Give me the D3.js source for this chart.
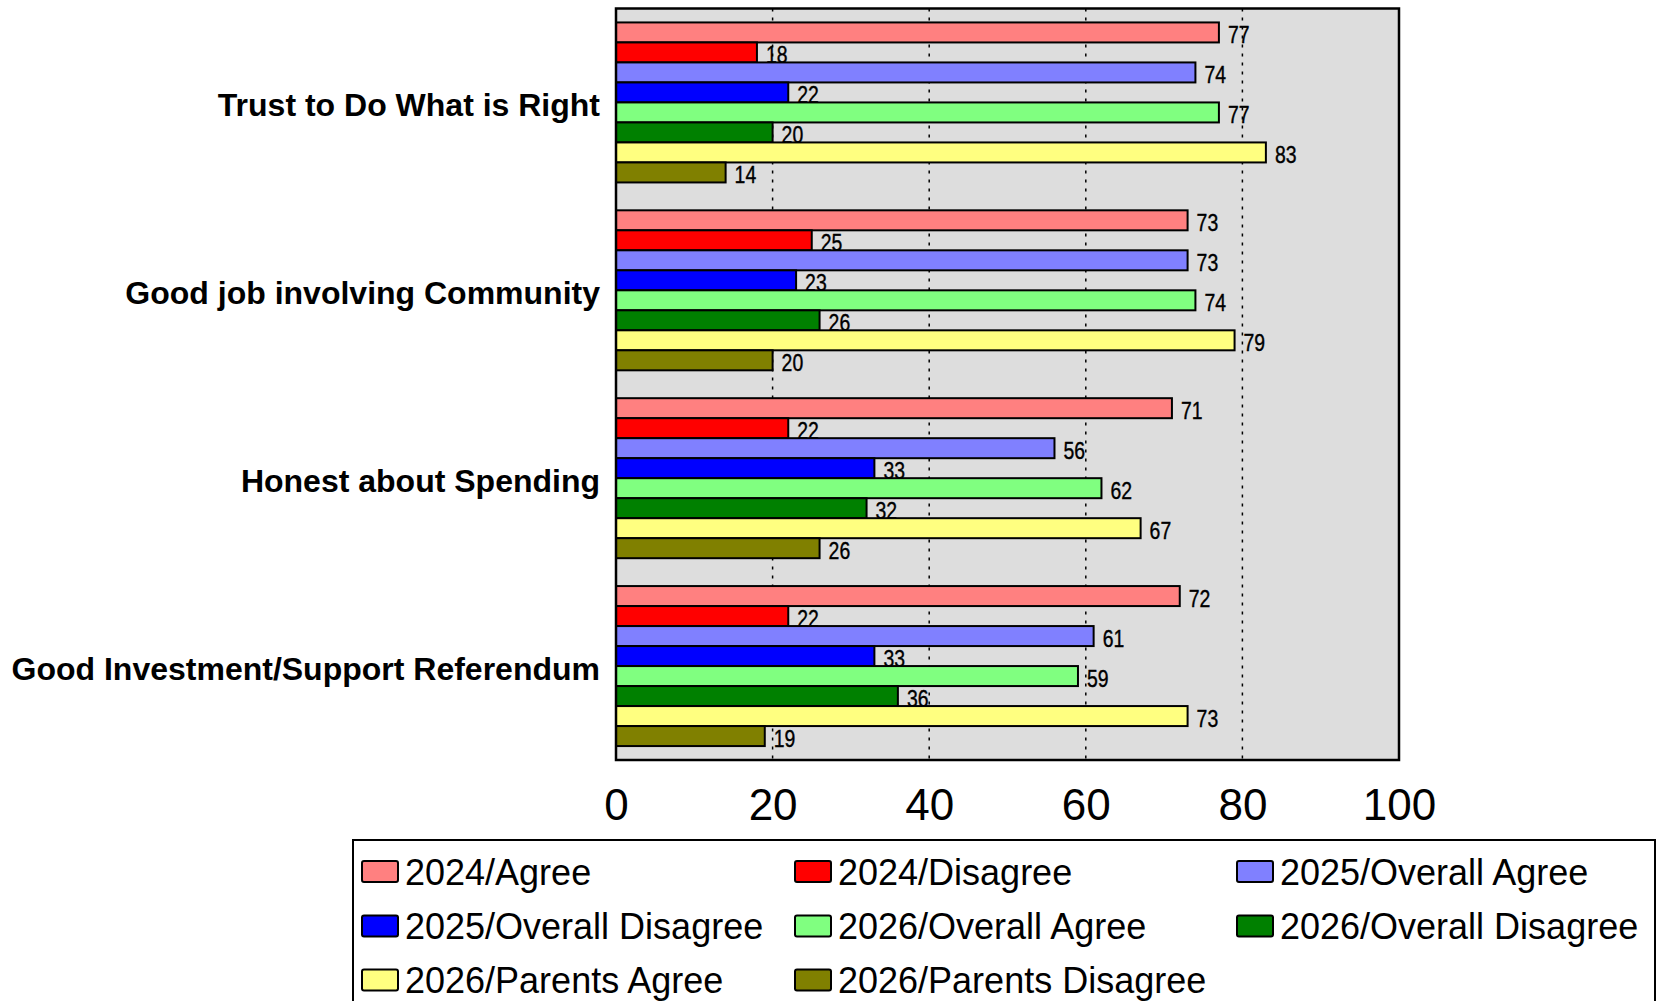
<!DOCTYPE html>
<html>
<head>
<meta charset="utf-8">
<script src="https://cdn.jsdelivr.net/npm/d3@7"></script>
<style>
  html, body { margin: 0; padding: 0; background: #ffffff; }
  svg { display: block; }
</style>
</head>
<body>
<svg id="chart" width="1657" height="1001"></svg>
<script>
// ---- Data ----
const categories = [
  "Trust to Do What is Right",
  "Good job involving Community",
  "Honest about Spending",
  "Good Investment/Support Referendum"
];
const seriesNames = [
  "2024/Agree", "2024/Disagree",
  "2025/Overall Agree", "2025/Overall Disagree",
  "2026/Overall Agree", "2026/Overall Disagree",
  "2026/Parents Agree", "2026/Parents Disagree"
];
const agree2024           = [77, 73, 71, 72];
const disagree2024        = [18, 25, 22, 22];
const overallAgree2025    = [74, 73, 56, 61];
const overallDisagree2025 = [22, 23, 33, 33];
const overallAgree2026    = [77, 74, 62, 59];
const overallDisagree2026 = [20, 26, 32, 36];
const parentsAgree2026    = [83, 79, 67, 73];
const parentsDisagree2026 = [14, 20, 26, 19];
const seriesValues = [agree2024, disagree2024, overallAgree2025, overallDisagree2025,
                      overallAgree2026, overallDisagree2026, parentsAgree2026, parentsDisagree2026];
const seriesColors = ["#FF8080", "#FF0000", "#8080FF", "#0000FF",
                      "#80FF80", "#008000", "#FFFF80", "#808000"];
const xTicks = [0, 20, 40, 60, 80, 100];
const gridTicks = [20, 40, 60, 80];

// ---- Layout ----
const svg = d3.select("#chart");
const plot = { left: 616, right: 1399, top: 8.5, bottom: 760 };

const x = d3.scaleLinear().domain([0, 100]).range([plot.left, plot.right]);
const y = d3.scaleBand().domain(categories).range([plot.top, plot.bottom]).padding(0);
const inner = d3.scaleBand().domain(seriesNames).range([0, y.bandwidth()])
  .paddingInner(0).paddingOuter((y.bandwidth() / 20 - 8) / 2);

// plot background
svg.append("rect")
  .attr("x", plot.left).attr("y", plot.top)
  .attr("width", plot.right - plot.left).attr("height", plot.bottom - plot.top)
  .attr("fill", "#DDDDDD");

// grid lines
svg.append("g").selectAll("line").data(gridTicks).join("line")
  .attr("x1", d => x(d)).attr("x2", d => x(d))
  .attr("y1", plot.top).attr("y2", plot.bottom)
  .attr("stroke", "#000").attr("stroke-width", 1.5)
  .attr("stroke-dasharray", "3,6");

// bars + value labels (label drawn right after its bar so the next bar overlaps it)
const flat = [];
categories.forEach((c, ci) => {
  seriesNames.forEach((s, si) => {
    flat.push({ cat: c, series: s, value: seriesValues[si][ci], color: seriesColors[si] });
  });
});

const items = svg.append("g").selectAll("g.item").data(flat).join("g").attr("class", "item");
items.append("rect")
  .attr("x", x(0))
  .attr("y", d => y(d.cat) + inner(d.series))
  .attr("width", d => x(d.value) - x(0))
  .attr("height", inner.bandwidth())
  .attr("fill", d => d.color)
  .attr("stroke", "#000").attr("stroke-width", 2);
items.append("text")
  .attr("x", d => x(d.value) + 9)
  .attr("y", d => y(d.cat) + inner(d.series) + inner.bandwidth() + 1)
  .attr("font-family", "'Liberation Sans', Arial, sans-serif")
  .attr("font-size", 24)
  .attr("fill", "#000")
  .attr("stroke", "#000").attr("stroke-width", 0.4)
  .attr("textLength", d => String(d.value).length * 10.8)
  .attr("lengthAdjust", "spacingAndGlyphs")
  .text(d => d.value);

// plot border
svg.append("rect")
  .attr("x", plot.left).attr("y", plot.top)
  .attr("width", plot.right - plot.left).attr("height", plot.bottom - plot.top)
  .attr("fill", "none").attr("stroke", "#000").attr("stroke-width", 2.5);

// category labels
svg.append("g").selectAll("text").data(categories).join("text")
  .attr("x", 600)
  .attr("y", d => y(d) + y.bandwidth() / 2 + 14)
  .attr("text-anchor", "end")
  .attr("font-family", "'Liberation Sans', Arial, sans-serif")
  .attr("font-weight", "bold")
  .attr("font-size", 32)
  .attr("fill", "#000")
  .text(d => d);

// x axis tick labels
const xAxis = d3.axisBottom(x).tickValues(xTicks).tickSize(0).tickPadding(0);
const ax = svg.append("g").attr("transform", `translate(0, 820)`).call(xAxis);
ax.select(".domain").remove();
ax.selectAll("text")
  .attr("dy", 0).attr("y", 0)
  .attr("font-family", "'Liberation Sans', Arial, sans-serif")
  .attr("font-size", 44)
  .attr("fill", "#000");

// legend
svg.append("rect")
  .attr("x", 353).attr("y", 840).attr("width", 1302).attr("height", 200)
  .attr("fill", "#fff").attr("stroke", "#000").attr("stroke-width", 2);

const colX = [362, 795, 1237];
const rowY = [871.5, 926, 980];
const leg = svg.append("g").selectAll("g").data(seriesNames).join("g")
  .attr("transform", (d, i) => `translate(${colX[i % 3]}, ${rowY[Math.floor(i / 3)]})`);
leg.append("rect")
  .attr("x", 0).attr("y", -10.5).attr("width", 36).attr("height", 21)
  .attr("rx", 2)
  .attr("fill", (d, i) => seriesColors[i])
  .attr("stroke", "#000").attr("stroke-width", 2);
leg.append("text")
  .attr("x", 43).attr("y", 13)
  .attr("font-family", "'Liberation Sans', Arial, sans-serif")
  .attr("font-size", 36)
  .attr("fill", "#000")
  .text(d => d);
</script>
</body>
</html>
